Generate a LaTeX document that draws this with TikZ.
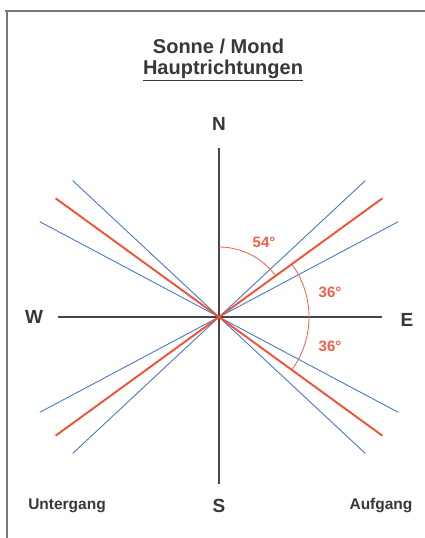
\documentclass[tikz,border=0pt]{standalone}
\usepackage{fontspec}
\setmainfont{Liberation Sans}
\usetikzlibrary{calc}
\definecolor{sunred}{RGB}{240,82,52}
\definecolor{moonblue}{RGB}{72,122,200}
\definecolor{anglab}{RGB}{240,96,72}
\definecolor{txt}{RGB}{55,55,60}
\definecolor{axis}{RGB}{70,70,80}
\definecolor{frame}{RGB}{120,120,125}
\tikzset{
  redline/.style={draw=sunred,line width=1.9pt},
  blueline/.style={draw=moonblue,line width=0.9pt},
  axisline/.style={draw=axis,line width=1.1pt},
  arcline/.style={draw=anglab,line width=0.8pt},
  dir/.style={font=\fontsize{19}{19}\selectfont\bfseries,text=txt,inner sep=0pt},
  side/.style={font=\fontsize{15.5}{16}\selectfont\bfseries,text=txt,inner sep=0pt},
  ang/.style={font=\fontsize{15}{15}\selectfont\bfseries,text=anglab,inner sep=0pt},
  ttl/.style={font=\fontsize{20}{20}\selectfont\bfseries,text=txt,inner sep=0pt}
}
\begin{document}
\begin{tikzpicture}[x=1pt,y=-1pt]
\useasboundingbox (0,0) rectangle (425,538);
\fill[white] (0,0) rectangle (425,538);
% frame
\draw[frame,line width=1.3pt] (5,11) -- (425,11);
\draw[frame,line width=1.3pt] (7,11) -- (7,538);
% centre
\coordinate (O) at (219,317);
% axes
\coordinate (Ntop) at (219,148);
\coordinate (Sbot) at (219,484);
\coordinate (Wend) at (58,317);
\coordinate (Eend) at (382,317);
% red (36 deg)
\coordinate (rNE) at (382.4,198.3);
\coordinate (rSW) at (55.6,435.7);
\coordinate (rNW) at (55.6,198.3);
\coordinate (rSE) at (382.4,435.7);
% blue steep (43 deg)
\coordinate (bNE) at (365.3,180.6);
\coordinate (bSW) at (72.7,453.4);
\coordinate (bNW) at (72.7,180.6);
\coordinate (bSE) at (365.3,453.4);
% blue shallow (28 deg)
\coordinate (cNE) at (398.2,221.7);
\coordinate (cSW) at (39.8,412.3);
\coordinate (cNW) at (39.8,221.7);
\coordinate (cSE) at (398.2,412.3);
% blue lines
\draw[blueline] (bNE) -- (bSW);
\draw[blueline] (bNW) -- (bSE);
\draw[blueline] (cNE) -- (cSW);
\draw[blueline] (cNW) -- (cSE);
% axes
\draw[axisline] (Ntop) -- (Sbot);
\draw[axisline] (Wend) -- (Eend);
% red lines
\draw[redline] (rNE) -- (rSW);
\draw[redline] (rNW) -- (rSE);
% arcs
\draw[arcline] ($(O)+(0,-70)$) arc[start angle=-90,end angle=-36,radius=70];
\draw[arcline] ($(O)+(-36:90)$) arc[start angle=-36,end angle=36,radius=90];
% labels
\node[ttl] (t1) at (218.5,46) {Sonne / Mond};
\node[ttl] (t2) at (223,70) {\underline{Hauptrichtungen}};
\node[dir] (N) at (219,124) {N};
\node[dir] (S) at (219,506) {S};
\node[dir] (W) at (34,317) {W};
\node[dir] (E) at (407,320) {E};
\node[side] (U) at (67,506) {Untergang};
\node[side] (A) at (381,506) {Aufgang};
\node[ang] (a54) at (264,242) {54°};
\node[ang] (a36a) at (330,292) {36°};
\node[ang] (a36b) at (330,346) {36°};
\end{tikzpicture}
\end{document}
